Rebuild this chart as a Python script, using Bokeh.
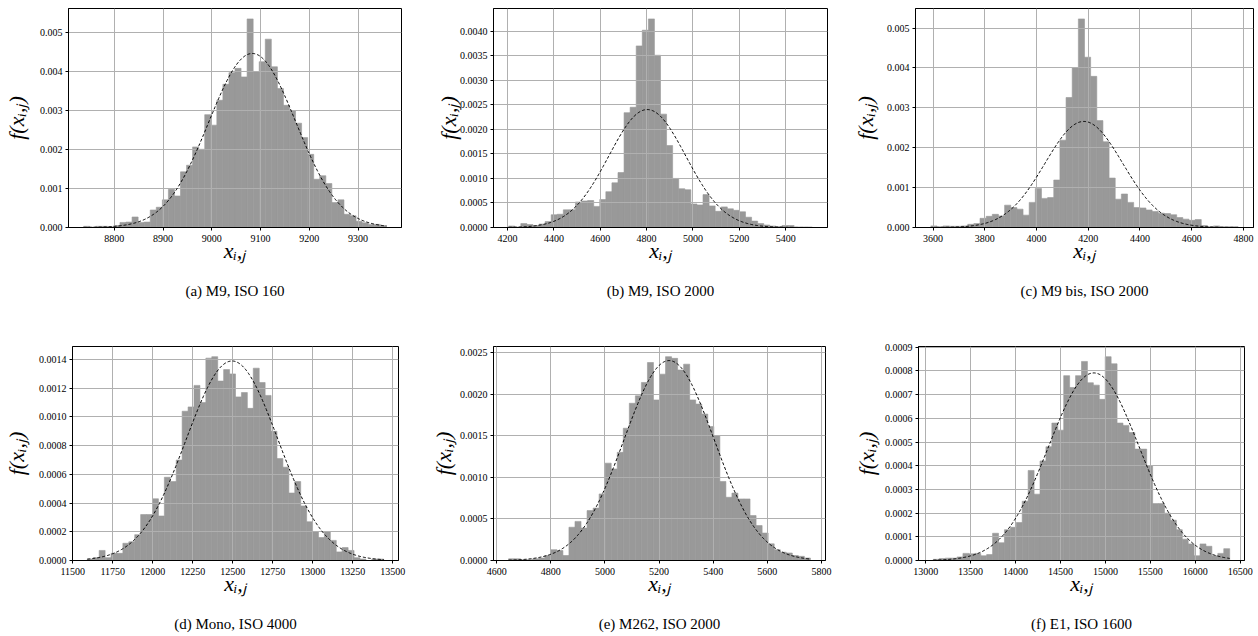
import numpy as np
from bokeh.plotting import figure
from bokeh.models import Range1d, FixedTicker, PrintfTickFormatter, Title
from bokeh.layouts import row, column
from bokeh.embed import file_html
from bokeh.resources import INLINE

# ---------------- data ----------------
# each panel: histogram of 50 equal bins between data min and max, plus fitted normal pdf
captions = ["(a) M9, ISO 160", "(b) M9, ISO 2000", "(c) M9 bis, ISO 2000",
            "(d) Mono, ISO 4000", "(e) M262, ISO 2000", "(f) E1, ISO 1600"]

data_min = [8737, 4205, 3591.5, 11591, 4644, 13085]
data_max = [9358, 5515, 4779.5, 13444, 5759, 16383]

fit_mu = [9083, 4803, 4183, 12496, 5237, 14871]
fit_sigma = [89.2, 166, 150, 287, 166, 504]

heights_a = [0.00003, 0.00001, 0.00003, 0.00003, 0.00002, 0.00005, 0.00013, 0.00014, 0.00027, 0.00013,
             0.00014, 0.00045, 0.00052, 0.00071, 0.00098, 0.00081, 0.00143, 0.00160, 0.00207, 0.00201,
             0.00290, 0.00263, 0.00327, 0.00368, 0.00398, 0.00409, 0.00387, 0.00536, 0.00400, 0.00426,
             0.00484, 0.00413, 0.00357, 0.00314, 0.00300, 0.00268, 0.00231, 0.00188, 0.00124, 0.00133,
             0.00113, 0.00064, 0.00071, 0.00034, 0.00030, 0.00016, 0.00012, 0.00008, 0.00008, 0.00005]

heights_b = [0.00003, 0.00001, 0.00008, 0.00006, 0.00004, 0.00007, 0.00012, 0.00026, 0.00027, 0.00036,
             0.00036, 0.00052, 0.00054, 0.00055, 0.00043, 0.00057, 0.00073, 0.00091, 0.00112, 0.00234,
             0.00245, 0.00370, 0.00402, 0.00425, 0.00351, 0.00231, 0.00167, 0.00100, 0.00079, 0.00077,
             0.00048, 0.00046, 0.00067, 0.00044, 0.00033, 0.00042, 0.00038, 0.00035, 0.00032, 0.00021,
             0.00013, 0.00008, 0.00005, 0.00003, 0.00002, 0.00004, 0.00004, 0.00001, 0.00001, 0.00001]

heights_c = [0.00004, 0.00002, 0.00004, 0.00003, 0.00003, 0.00004, 0.00008, 0.00010, 0.00023, 0.00028,
             0.00033, 0.00029, 0.00056, 0.00050, 0.00046, 0.00031, 0.00063, 0.00098, 0.00073, 0.00075,
             0.00119, 0.00219, 0.00326, 0.00400, 0.00523, 0.00427, 0.00379, 0.00268, 0.00215, 0.00124,
             0.00071, 0.00084, 0.00063, 0.00050, 0.00049, 0.00044, 0.00040, 0.00036, 0.00035, 0.00032,
             0.00025, 0.00021, 0.00018, 0.00020, 0.00005, 0.00002, 0.00004, 0.00002, 0.00002, 0.00002]

heights_d = [0.00001, 0.00002, 0.00007, 0.00002, 0.00005, 0.00005, 0.00012, 0.00013, 0.00018, 0.00032,
             0.00032, 0.00043, 0.00031, 0.00058, 0.00055, 0.00070, 0.00104, 0.00107, 0.00122, 0.00110,
             0.00141, 0.00142, 0.00125, 0.00133, 0.00130, 0.00114, 0.00117, 0.00106, 0.00134, 0.00124,
             0.00115, 0.00090, 0.00071, 0.00065, 0.00047, 0.00055, 0.00038, 0.00027, 0.00020, 0.00016,
             0.00020, 0.00014, 0.00006, 0.00009, 0.00007, 0.00002, 0.00001, 0.00000, 0.00001, 0.00001]

heights_e = [0.00002, 0.00002, 0.00001, 0.00001, 0.00002, 0.00003, 0.00006, 0.00013, 0.00012, 0.00006,
             0.00040, 0.00047, 0.00039, 0.00060, 0.00063, 0.00080, 0.00117, 0.00110, 0.00130, 0.00159,
             0.00189, 0.00198, 0.00214, 0.00238, 0.00193, 0.00224, 0.00245, 0.00243, 0.00229, 0.00236,
             0.00193, 0.00188, 0.00176, 0.00161, 0.00150, 0.00095, 0.00076, 0.00081, 0.00074, 0.00074,
             0.00054, 0.00042, 0.00033, 0.00020, 0.00013, 0.00010, 0.00009, 0.00006, 0.00005, 0.00003]

heights_f = [0.000005, 0.000008, 0.00001, 0.00001, 0.000015, 0.00003, 0.000028, 0.00003, 0.00002, 0.000025,
             0.000115, 0.000075, 0.00013, 0.00014, 0.00016, 0.00025, 0.00038, 0.00028, 0.00042, 0.00048,
             0.00058, 0.00055, 0.00078, 0.00073, 0.00078, 0.00084, 0.00075, 0.00074, 0.00068, 0.00086,
             0.00083, 0.00058, 0.00057, 0.00054, 0.00047, 0.00047, 0.00040, 0.00024, 0.00024, 0.00020,
             0.00017, 0.00013, 0.00009, 0.00007, 0.00002, 0.00007, 0.00006, 0.00002, 0.00003, 0.00005]

all_heights = [heights_a, heights_b, heights_c, heights_d, heights_e, heights_f]

xticks_list = [[8800, 8900, 9000, 9100, 9200, 9300],
               [4200, 4400, 4600, 4800, 5000, 5200, 5400],
               [3600, 3800, 4000, 4200, 4400, 4600, 4800],
               [11500, 11750, 12000, 12250, 12500, 12750, 13000, 13250, 13500],
               [4600, 4800, 5000, 5200, 5400, 5600, 5800],
               [13000, 13500, 14000, 14500, 15000, 15500, 16000, 16500]]

yticks_list = [[0, 0.001, 0.002, 0.003, 0.004, 0.005],
               [0, 0.0005, 0.0010, 0.0015, 0.0020, 0.0025, 0.0030, 0.0035, 0.0040],
               [0, 0.001, 0.002, 0.003, 0.004, 0.005],
               [0, 0.0002, 0.0004, 0.0006, 0.0008, 0.0010, 0.0012, 0.0014],
               [0, 0.0005, 0.0010, 0.0015, 0.0020, 0.0025],
               [0, 0.0001, 0.0002, 0.0003, 0.0004, 0.0005, 0.0006, 0.0007, 0.0008, 0.0009]]

yformats = ["%.3f", "%.4f", "%.3f", "%.4f", "%.4f", "%.4f"]

x_label = "x\u1d62,\u2c7c"
y_label = "f(x\u1d62,\u2c7c)"

# ---------------- layout geometry ----------------
# (width, height, border l, r, t, b, y-label standoff)
geoms = [(420, 318, 63, 19, 8, 91, 8),
         (418, 318, 73, 11, 8, 90, -4),
         (420, 318, 77, 5, 8, 91, 6),
         (420, 318, 67, 22, 27, 76, 7),
         (418, 318, 73, 13, 27, 76, 1),
         (420, 318, 80, 14, 28, 76, 3)]

SERIF = "Liberation Serif"
BAR = "#999999"


def make_panel(i):
    W, H, bl, br, bt, bb, ystand = geoms[i]
    lo, hi = data_min[i], data_max[i]
    hts = all_heights[i]
    n = len(hts)
    edges = np.linspace(lo, hi, n + 1)
    pad = 0.05 * (hi - lo)
    ymax = 1.05 * max(hts)
    p = figure(width=W, height=H, x_range=Range1d(lo - pad, hi + pad), y_range=Range1d(0, ymax),
               output_backend="svg", toolbar_location=None,
               min_border_left=bl, min_border_right=br, min_border_top=bt, min_border_bottom=bb)
    p.background_fill_color = "white"
    p.border_fill_color = "white"
    p.outline_line_color = "black"
    p.outline_line_width = 1
    p.outline_line_alpha = 1

    p.quad(left=edges[:-1], right=edges[1:], bottom=0, top=hts,
           fill_color=BAR, line_color=BAR, line_width=0.6, level="image")

    xs = np.linspace(lo, hi, 400)
    ys = np.exp(-0.5 * ((xs - fit_mu[i]) / fit_sigma[i]) ** 2) / (fit_sigma[i] * np.sqrt(2 * np.pi))
    p.line(xs, ys, line_color="black", line_width=1, line_dash="3 2")

    p.grid.grid_line_color = "#b0b0b0"
    p.grid.grid_line_width = 1
    p.xgrid.ticker = FixedTicker(ticks=xticks_list[i])
    p.ygrid.ticker = FixedTicker(ticks=yticks_list[i])

    p.xaxis.ticker = FixedTicker(ticks=xticks_list[i])
    p.yaxis.ticker = FixedTicker(ticks=yticks_list[i])
    p.yaxis.formatter = PrintfTickFormatter(format=yformats[i])

    for ax in (p.xaxis, p.yaxis):
        ax.axis_line_color = "black"
        ax.axis_line_width = 1
        ax.major_tick_line_color = "black"
        ax.major_tick_line_width = 1
        ax.major_tick_out = 3
        ax.major_tick_in = 0
        ax.minor_tick_line_color = None
        ax.major_label_text_font = SERIF
        ax.major_label_text_font_size = "10px"
        ax.major_label_text_color = "black"
        ax.axis_label_text_font = SERIF
        ax.axis_label_text_font_style = "italic"
        ax.axis_label_text_font_size = "22px"
        ax.axis_label_text_color = "black"
    p.xaxis.major_label_standoff = 4
    p.yaxis.major_label_standoff = 3
    p.xaxis.axis_label = x_label
    p.yaxis.axis_label = y_label
    p.xaxis.axis_label_standoff = -7
    p.yaxis.axis_label_standoff = ystand

    # blank spacer between the x-axis label and the caption
    gap = Title(text=" ", text_font_size="1px", standoff=14)
    p.add_layout(gap, "below")
    cap = Title(text=captions[i], align="center", vertical_align="top", standoff=0,
                text_font=SERIF, text_font_size="15px", text_font_style="normal", text_color="black")
    p.add_layout(cap, "below")
    return p


panels = [make_panel(i) for i in range(6)]
layout = column(row(panels[0], panels[1], panels[2]), row(panels[3], panels[4], panels[5]))

open("out.html", "w").write(file_html(layout, INLINE))
